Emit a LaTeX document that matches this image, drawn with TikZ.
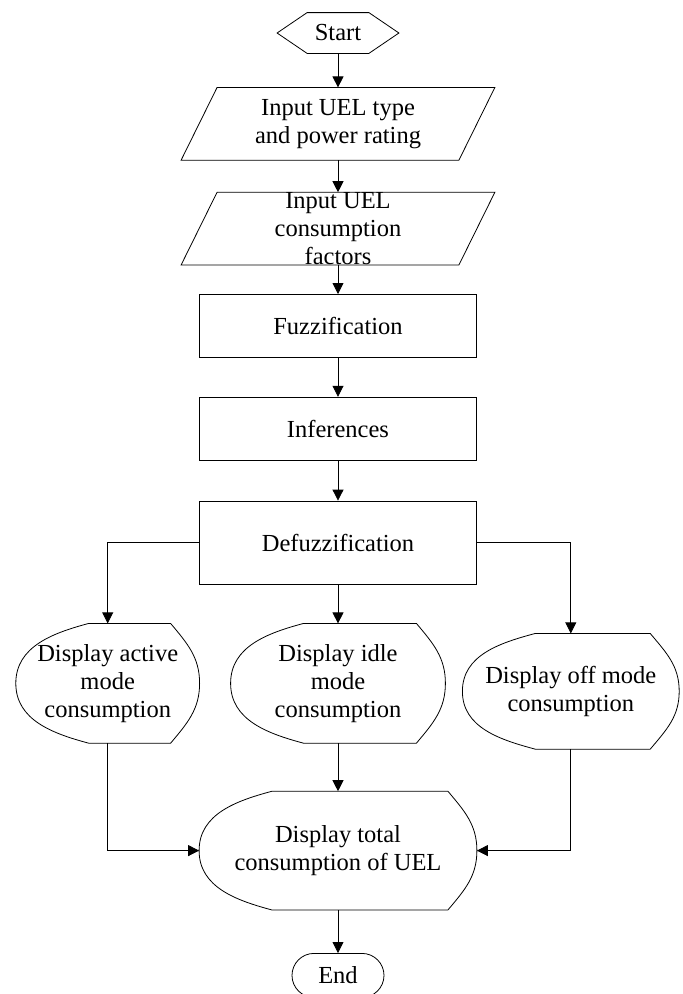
\documentclass[tikz,border=0pt]{standalone}
\usepackage{fontspec}
\setmainfont{Liberation Serif}
\usetikzlibrary{positioning,arrows.meta,shapes.misc}
\begin{document}
\begin{tikzpicture}[x=1pt,y=-1pt,
			font=\fontsize{24.5}{28}\selectfont,
			line width=0.8pt,
			every node/.style = {align=center, inner sep=0pt},
			arr/.style={-{Triangle[width=11pt,length=11pt]}},
			box/.style={draw, minimum width=277pt},
			hexa/.style={minimum width=121pt, minimum height=40pt,
				append after command={\pgfextra{\draw (\tikzlastnode.west) -- ([xshift=30pt]\tikzlastnode.north west)
					-- ([xshift=-30pt]\tikzlastnode.north east) -- (\tikzlastnode.east)
					-- ([xshift=-30pt]\tikzlastnode.south east) -- ([xshift=30pt]\tikzlastnode.south west) -- cycle;}}},
			para/.style={minimum width=313pt, minimum height=72pt,
				append after command={\pgfextra{\draw ([xshift=36pt]\tikzlastnode.north west) -- (\tikzlastnode.north east)
					-- ([xshift=-36pt]\tikzlastnode.south east) -- (\tikzlastnode.south west) -- cycle;}}},
			disp/.style={minimum height=119pt,
				append after command={\pgfextra{\draw ([xshift=73pt]\tikzlastnode.north west)
					-- ([xshift=-29pt]\tikzlastnode.north east) to[out=-50,in=90] (\tikzlastnode.east)
					to[out=-90,in=50] ([xshift=-29pt]\tikzlastnode.south east)
					-- ([xshift=73pt]\tikzlastnode.south west) to[out=165,in=-90] (\tikzlastnode.west)
					to[out=90,in=195] ([xshift=73pt]\tikzlastnode.north west);}}}]

			\useasboundingbox (0,0) rectangle (683,994);

			\node[hexa] (start) at (338,33) {Start};
			\node[para, below=34pt of start] (uelin) {Input UEL type\\and power rating};
			\node[para, inner ysep=-6pt, below=32pt of uelin] (factin) {Input UEL\\consumption\\factors};
			\node[box, minimum height=63pt, below=29pt of factin] (fuzz) {Fuzzification};
			\node[box, minimum height=63pt, below=39pt of fuzz] (infer) {Inferences};
			\node[box, minimum height=83pt, below=40pt of infer] (defuzz) {Defuzzification};
			\node[disp, minimum width=214pt, below=39pt of defuzz] (idle) {Display idle\\mode\\consumption};
			\node[disp, minimum width=183pt, left=31pt of idle] (active) {Display active\\mode\\consumption};
			\node[disp, minimum width=216pt, minimum height=115pt, right=17pt of idle, yshift=-8pt] (off) {Display off mode\\consumption};
			\node[disp, minimum width=277pt, minimum height=118pt, below=48pt of idle] (total) {Display total\\consumption of UEL};
			\node[draw, rounded rectangle, minimum width=92pt, minimum height=44pt, below=43pt of total] (end) {End};

			\draw[arr] (start.south) -- (uelin.north);
			\draw[arr] (uelin.south) -- (factin.north);
			\draw[arr] (factin.south) -- (fuzz.north);
			\draw[arr] (fuzz.south) -- (infer.north);
			\draw[arr] (infer.south) -- (defuzz.north);
			\draw[arr] (defuzz.west) -| (active.north);
			\draw[arr] (defuzz.south) -- (idle.north);
			\draw[arr] (defuzz.east) -| (off.north);
			\draw[arr] (active.south) |- (total.west);
			\draw[arr] (idle.south) -- (total.north);
			\draw[arr] (off.south) |- (total.east);
			\draw[arr] (total.south) -- (end.north);
\end{tikzpicture}
\end{document}
